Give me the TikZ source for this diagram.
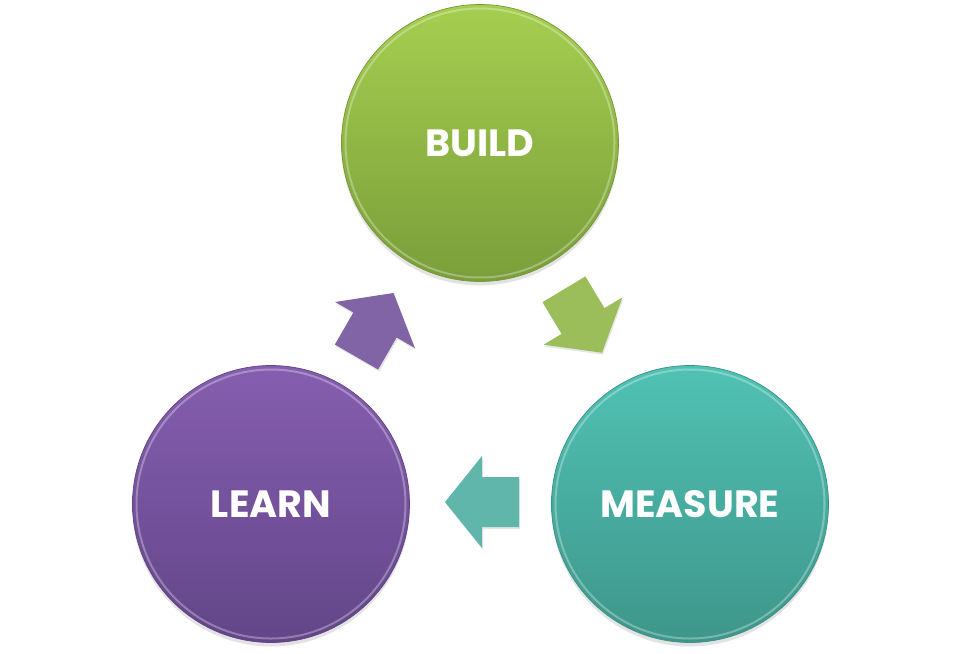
\documentclass[tikz,border=0pt]{standalone}
\usepackage{fontspec}
\setmainfont{Poppins}
\usetikzlibrary{shadows}
\definecolor{gTop}{RGB}{165,207,80}
\definecolor{gBot}{RGB}{122,158,58}
\definecolor{gEdge}{RGB}{118,152,56}
\definecolor{pTop}{RGB}{134,94,176}
\definecolor{pBot}{RGB}{98,70,136}
\definecolor{pEdge}{RGB}{96,68,132}
\definecolor{tTop}{RGB}{80,194,180}
\definecolor{tBot}{RGB}{62,150,138}
\definecolor{tEdge}{RGB}{60,145,134}
\definecolor{pArrow}{RGB}{128,100,166}
\definecolor{gArrow}{RGB}{155,190,90}
\definecolor{tArrow}{RGB}{96,182,170}
\tikzset{
  stage/.style={circle, inner sep=0pt, minimum size=277pt, text=white,
    font=\fontsize{38}{40}\selectfont\bfseries,
    drop shadow={opacity=0.22, shadow xshift=0pt, shadow yshift=-4pt}},
  rim/.style={white, opacity=0.3, line width=2pt},
  blockarrow/.style={drop shadow={opacity=0.2, shadow xshift=1pt, shadow yshift=-2pt}},
}
\newcommand{\arrowpath}{(-37,-25) -- (0,-25) -- (0,-46) -- (37,0) -- (0,46) -- (0,25) -- (-37,25) -- cycle}
\begin{document}
\begin{tikzpicture}[x=1pt,y=-1pt]
\useasboundingbox (0,0) rectangle (960,653);
% circles
\node[stage, top color=gTop, bottom color=gBot] (build) at (480,143) {BUILD};
\node[stage, top color=pTop, bottom color=pBot] (learn) at (271,504) {LEARN};
\node[stage, top color=tTop, bottom color=tBot] (measure) at (690,504) {MEASURE};
\draw[rim] (build.center) circle (134.5);
\draw[rim] (learn.center) circle (134.5);
\draw[rim] (measure.center) circle (134.5);
\draw[gEdge, line width=0.7pt] (build.center) circle (138.5);
\draw[pEdge, line width=0.7pt] (learn.center) circle (138.5);
\draw[tEdge, line width=0.7pt] (measure.center) circle (138.5);
% arrows
\begin{scope}[shift={(583,321)}, rotate=-59]
  \fill[gArrow, blockarrow] \arrowpath;
\end{scope}
\begin{scope}[shift={(482,502)}, rotate=180]
  \fill[tArrow, blockarrow] \arrowpath;
\end{scope}
\begin{scope}[shift={(375,325)}, rotate=60]
  \fill[pArrow, blockarrow] \arrowpath;
\end{scope}
\end{tikzpicture}
\end{document}
